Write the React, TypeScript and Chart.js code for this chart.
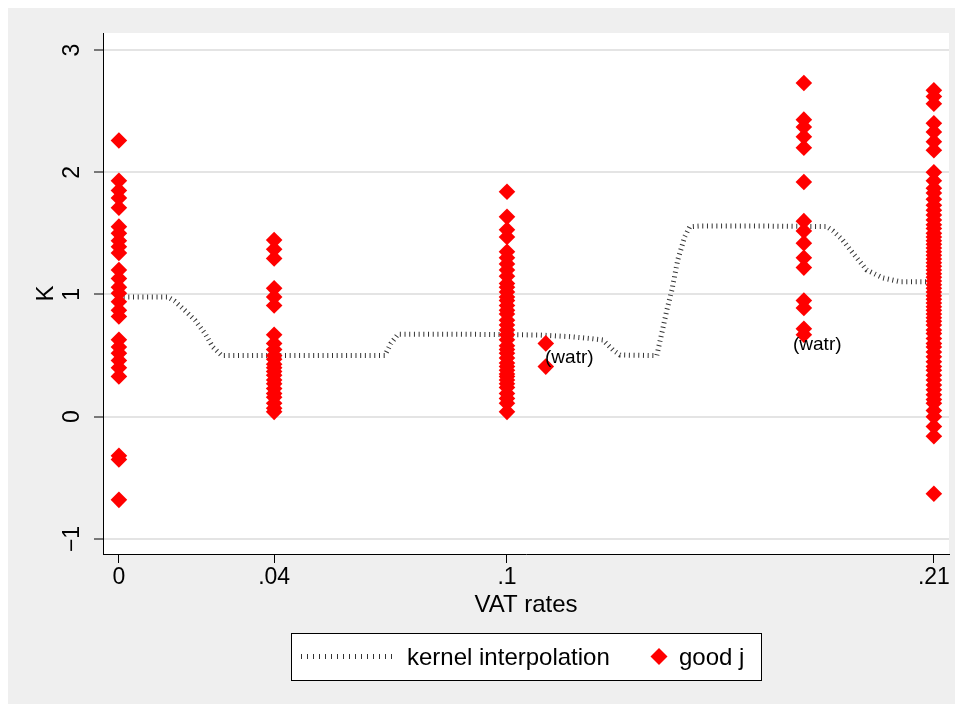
import { useEffect, useRef } from "react";
import { Chart, registerables } from "chart.js";

Chart.register(...registerables);

const FONT = '"Liberation Sans", Arial, Helvetica, sans-serif';
const PAGE_BG = "#efefef";
const MARKER_RED = "#ff0000";
const KERNEL_COLOR = "#333333";

// VAT-rate axis
const rateTicks = [0, 0.04, 0.1, 0.21];
const rateTickLabels = ["0", ".04", ".1", ".21"];

// K axis
const kTicks = [-1, 0, 1, 2, 3];
const kTickLabels = ["\u22121", "0", "1", "2", "3"];

// good j: K observed at each VAT rate
const goodRates = [0, 0.04, 0.1, 0.11, 0.1765, 0.21];
const kAtRate0 = [
  2.26, 1.93, 1.85, 1.79, 1.71, 1.555, 1.5, 1.44, 1.39, 1.34, 1.2, 1.13, 1.06,
  1.01, 0.94, 0.87, 0.82, 0.63, 0.57, 0.52, 0.46, 0.4, 0.33, -0.32, -0.35, -0.68,
];
const kAtRate04 = [
  1.445, 1.37, 1.295, 1.05, 0.98, 0.91, 0.67, 0.6, 0.55, 0.5, 0.47, 0.43, 0.4,
  0.37, 0.34, 0.3, 0.27, 0.23, 0.19, 0.16, 0.11, 0.07, 0.04,
];
const kAtRate10 = [
  1.84, 1.635, 1.53, 1.47, 1.35, 1.3, 1.25, 1.2, 1.15, 1.09, 1.06, 1.02, 0.98,
  0.95, 0.91, 0.87, 0.84, 0.79, 0.75, 0.71, 0.67, 0.63, 0.58, 0.55, 0.52, 0.48,
  0.44, 0.41, 0.38, 0.35, 0.33, 0.3, 0.27, 0.24, 0.19, 0.15, 0.11, 0.04,
];
const kAtRate11 = [0.6, 0.41];
const kAtRate18 = [
  2.73, 2.43, 2.37, 2.29, 2.2, 1.92, 1.6, 1.52, 1.42, 1.3, 1.22, 0.95, 0.89,
  0.72, 0.67,
];
const kAtRate21 = [
  2.67, 2.62, 2.56, 2.4, 2.33, 2.25, 2.18, 2.0, 1.93, 1.87, 1.83, 1.78, 1.73,
  1.69, 1.65, 1.61, 1.57, 1.54, 1.5, 1.47, 1.44, 1.41, 1.38, 1.35, 1.32, 1.29,
  1.26, 1.23, 1.2, 1.17, 1.14, 1.11, 1.08, 1.05, 1.02, 0.99, 0.96, 0.93, 0.9,
  0.87, 0.84, 0.81, 0.78, 0.75, 0.71, 0.68, 0.64, 0.6, 0.57, 0.53, 0.49, 0.45,
  0.41, 0.38, 0.34, 0.3, 0.26, 0.22, 0.18, 0.14, 0.11, 0.05, 0.0, -0.08, -0.16,
  -0.63,
];
const goodK = [kAtRate0, kAtRate04, kAtRate10, kAtRate11, kAtRate18, kAtRate21];

// kernel interpolation of K over the VAT rate
const kernelRates = [
  0, 0.0054, 0.0106, 0.0126, 0.0144, 0.017, 0.0196, 0.0222, 0.0242, 0.0265,
  0.0363, 0.0466, 0.0569, 0.0685, 0.0701, 0.0719, 0.0853, 0.1, 0.1085, 0.1162,
  0.1214, 0.1247, 0.1273, 0.1291, 0.1386, 0.1399, 0.1412, 0.1425, 0.144,
  0.1458, 0.1471, 0.1497, 0.1652, 0.1824, 0.184, 0.1865, 0.1891, 0.1927,
  0.1969, 0.2012, 0.21,
];
const kernelK = [
  0.98, 0.98, 0.98, 0.98, 0.945, 0.87, 0.79, 0.68, 0.57, 0.5, 0.5, 0.5, 0.5,
  0.5, 0.6, 0.675, 0.675, 0.672, 0.668, 0.655, 0.64, 0.628, 0.546, 0.505, 0.5,
  0.685, 0.873, 1.037, 1.282, 1.473, 1.555, 1.56, 1.56, 1.555, 1.52, 1.445,
  1.34, 1.2, 1.135, 1.105, 1.105,
];

// "(watr)" marker labels
const watrText = "(watr)";
const watrRates = [0.1098, 0.1737];
const watrK = [0.48, 0.585];

const legendKernel = "kernel interpolation";
const legendGood = "good j";
const xTitle = "VAT rates";
const yTitle = "K";

function diamond(ctx: CanvasRenderingContext2D, cx: number, cy: number, r: number) {
  ctx.beginPath();
  ctx.moveTo(cx - r, cy);
  ctx.lineTo(cx, cy - r);
  ctx.lineTo(cx + r, cy);
  ctx.lineTo(cx, cy + r);
  ctx.closePath();
  ctx.fill();
}

const stataFrame = {
  id: "stataFrame",
  beforeDraw(chart: any) {
    const { ctx, chartArea: a, width, height } = chart;
    ctx.save();
    ctx.fillStyle = PAGE_BG;
    ctx.fillRect(0, 0, width, height);
    ctx.fillStyle = "#ffffff";
    ctx.fillRect(a.left, a.top, a.right - a.left, a.bottom - a.top);
    ctx.restore();
  },
  afterDraw(chart: any) {
    const { ctx, chartArea: a, scales } = chart;
    const xs = scales.x;
    const ys = scales.y;
    const midX = (a.left + a.right) / 2;
    const midY = (a.top + a.bottom) / 2;
    ctx.save();
    ctx.fillStyle = "#000";

    // rotated K tick labels
    ctx.font = `23px ${FONT}`;
    ctx.textAlign = "center";
    ctx.textBaseline = "middle";
    kTicks.forEach((v, i) => {
      ctx.save();
      ctx.translate(a.left - 30.5, ys.getPixelForValue(v));
      ctx.rotate(-Math.PI / 2);
      ctx.fillText(kTickLabels[i], 0, 0);
      ctx.restore();
    });

    // axis titles
    ctx.font = `24px ${FONT}`;
    ctx.save();
    ctx.translate(a.left - 57, midY);
    ctx.rotate(-Math.PI / 2);
    ctx.fillText(yTitle, 0, 0);
    ctx.restore();
    ctx.fillText(xTitle, midX, a.bottom + 51);

    // marker labels
    ctx.font = `19px ${FONT}`;
    ctx.textAlign = "left";
    watrRates.forEach((r, i) => {
      ctx.fillText(watrText, xs.getPixelForValue(r), ys.getPixelForValue(watrK[i]));
    });

    // legend box
    const lw = 470;
    const lh = 47;
    const lx = Math.round(midX - lw / 2);
    const ly = a.bottom + 79;
    const cy = ly + lh / 2;
    ctx.fillStyle = "#ffffff";
    ctx.fillRect(lx, ly, lw, lh);
    ctx.strokeStyle = "#000";
    ctx.lineWidth = 1;
    ctx.strokeRect(lx + 0.5, ly + 0.5, lw, lh);

    ctx.strokeStyle = KERNEL_COLOR;
    ctx.lineWidth = 5;
    ctx.lineCap = "butt";
    ctx.setLineDash([1, 5]);
    ctx.beginPath();
    ctx.moveTo(lx + 10, cy);
    ctx.lineTo(lx + 101, cy);
    ctx.stroke();
    ctx.setLineDash([]);

    ctx.fillStyle = "#000";
    ctx.font = `24px ${FONT}`;
    ctx.textAlign = "left";
    ctx.textBaseline = "alphabetic";
    ctx.fillText(legendKernel, lx + 116, cy + 8.5);
    ctx.fillStyle = MARKER_RED;
    diamond(ctx, lx + 368, cy, 8.5);
    ctx.fillStyle = "#000";
    ctx.fillText(legendGood, lx + 388, cy + 8.5);

    ctx.restore();
  },
};

export default function App() {
  const canvasRef = useRef<HTMLCanvasElement | null>(null);

  useEffect(() => {
    const canvas = canvasRef.current;
    if (!canvas) return;

    const goodPoints = goodRates.flatMap((r, i) => goodK[i].map((k) => ({ x: r, y: k })));
    const kernelPoints = kernelRates.map((r, i) => ({ x: r, y: kernelK[i] }));

    const chart = new Chart(canvas, {
      type: "scatter",
      data: {
        datasets: [
          {
            label: legendGood,
            data: goodPoints,
            order: 0,
            pointStyle: "rectRot",
            pointRadius: 8.3,
            pointHoverRadius: 8.3,
            pointBorderWidth: 0,
            backgroundColor: MARKER_RED,
            borderColor: MARKER_RED,
          },
          {
            label: legendKernel,
            data: kernelPoints,
            order: 1,
            showLine: true,
            pointRadius: 0,
            pointHoverRadius: 0,
            borderColor: KERNEL_COLOR,
            borderWidth: 5,
            borderDash: [1, 3.7],
            borderCapStyle: "butt",
            tension: 0,
            fill: false,
          },
        ],
      },
      options: {
        animation: false,
        responsive: false,
        devicePixelRatio: 1,
        events: [],
        layout: { padding: { left: 0, top: 25, right: 14, bottom: 0 } },
        plugins: {
          legend: { display: false },
          tooltip: { enabled: false },
        },
        scales: {
          x: {
            type: "linear",
            min: -0.0041,
            max: 0.2139,
            afterBuildTicks: (s: any) => {
              s.ticks = rateTicks.map((v) => ({ value: v }));
            },
            afterFit: (s: any) => {
              s.height = 150;
            },
            ticks: {
              autoSkip: false,
              maxRotation: 0,
              minRotation: 0,
              padding: 1,
              color: "#000",
              font: { family: FONT, size: 23 },
              callback: (_v: any, i: number) => rateTickLabels[i],
            },
            grid: {
              drawOnChartArea: false,
              drawTicks: true,
              tickLength: 9,
              tickColor: "#000",
              tickWidth: 1,
            },
            border: { display: true, color: "#000", width: 1 },
          },
          y: {
            type: "linear",
            min: -1.123,
            max: 3.139,
            afterBuildTicks: (s: any) => {
              s.ticks = kTicks.map((v) => ({ value: v }));
            },
            afterFit: (s: any) => {
              s.width = 95;
            },
            ticks: { display: false },
            grid: {
              color: "#e4e4e4",
              lineWidth: 2,
              drawTicks: true,
              tickLength: 9,
              tickColor: "#000",
              tickWidth: 1,
            },
            border: { display: true, color: "#000", width: 1 },
          },
        },
      },
      plugins: [stataFrame],
    });

    return () => chart.destroy();
  }, []);

  return (
    <div style={{ width: 955, height: 696, position: "relative" }}>
      <canvas ref={canvasRef} width={955} height={696} style={{ display: "block" }} />
    </div>
  );
}
